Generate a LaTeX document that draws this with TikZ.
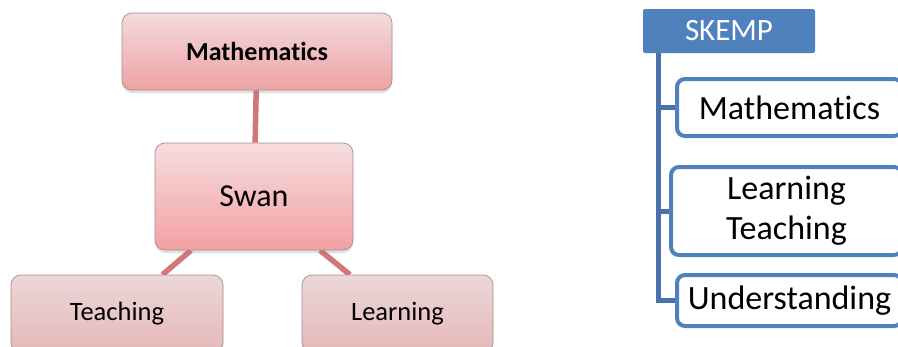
\documentclass[tikz,border=0pt]{standalone}
\usepackage{fontspec}
\setmainfont{Carlito}[Ligatures={NoCommon,NoContextual}]
\usetikzlibrary{shadows,backgrounds}

\definecolor{mathtop}{HTML}{F3DBDD}
\definecolor{mathbot}{HTML}{EEA2A5}
\definecolor{swantop}{HTML}{F6DDDF}
\definecolor{swanbot}{HTML}{F2A1A4}
\definecolor{leaftop}{HTML}{ECD7D8}
\definecolor{leafbot}{HTML}{E6B8B9}
\definecolor{pinkedge}{HTML}{A88A8B}
\definecolor{linkred}{HTML}{D0777A}
\definecolor{skblue}{HTML}{4F81BD}
\definecolor{trunkblue}{HTML}{4A72A8}

\tikzset{
  pinkbox/.style={rectangle, rounded corners=10pt, draw=pinkedge, line width=0.7pt,
    drop shadow={shadow xshift=0pt, shadow yshift=-3pt, opacity=0.25},
    inner sep=0pt, text=black},
  link/.style={draw=linkred, line width=5.5pt},
  linkfade/.style={draw=linkred, line width=5.5pt, opacity=0.45},
  headbox/.style={rectangle, rounded corners=2pt, fill=skblue, text=white,
    inner sep=0pt, font=\fontsize{31}{36}\selectfont},
  leafbox/.style={rectangle, rounded corners=8pt, draw=skblue, line width=4pt,
    fill=white, inner sep=0pt, text=black, align=center,
    font=\fontsize{34}{40}\selectfont},
  tree/.style={draw=trunkblue, line width=5pt}
}

\begin{document}
\begin{tikzpicture}[x=1pt, y=-1pt]
  \useasboundingbox (0,0) rectangle (898,346);
  \clip (0,0) rectangle (898,346);

  % left hierarchy
  \node[pinkbox, top color=mathtop, bottom color=mathbot,
        minimum width=270pt, minimum height=77pt,
        font=\fontsize{26}{30}\selectfont\bfseries] (lmath) at (257,51.5) {Mathematics};
  \node[pinkbox, top color=swantop, bottom color=swanbot,
        minimum width=198pt, minimum height=107pt,
        font=\fontsize{32}{36}\selectfont] (swan) at (254,196.5) {Swan};
  \node[pinkbox, top color=leaftop, bottom color=leafbot,
        minimum width=212pt, minimum height=77pt,
        font=\fontsize{26.5}{30}\selectfont] (teach) at (117,313.5) {Teaching};
  \node[pinkbox, top color=leaftop, bottom color=leafbot,
        minimum width=191pt, minimum height=77pt,
        font=\fontsize{26.5}{30}\selectfont] (learn) at (397.5,313.5) {Learning};

  \begin{scope}[on background layer]
    \draw[link] (lmath) -- (swan);
    \draw[link] (swan) -- (teach);
    \draw[link] (swan) -- (learn);
  \end{scope}
  % connector ends showing faintly over the boxes
  \path (lmath) -- (swan) coordinate[pos=0.17] (ma) coordinate[pos=0.266] (mb);
  \draw[linkfade] (ma) -- (mb);
  \path (swan) -- (teach) coordinate[pos=0.675] (ta) coordinate[pos=0.744] (tb);
  \draw[linkfade] (ta) -- (tb);
  \path (swan) -- (learn) coordinate[pos=0.675] (la) coordinate[pos=0.744] (lb);
  \draw[linkfade] (la) -- (lb);

  % right hierarchy
  \node[headbox, minimum width=172pt, minimum height=44pt] (skemp) at (729,31) {SKEMP};
  \node[leafbox, minimum width=225pt, minimum height=57pt] (rmath) at (789.5,107.5) {Mathematics};
  \node[leafbox, minimum width=231pt, minimum height=88pt] (rlt) at (786.5,211) {Learning\\Teaching};
  \node[leafbox, minimum width=225pt, minimum height=51pt] (rund) at (789.5,300.5) {Understanding};

  \coordinate (trunk) at (658,0);
  \begin{scope}[on background layer]
    \draw[tree] (skemp.south -| trunk) |- (rmath.west);
    \draw[tree] (skemp.south -| trunk) |- (rlt.west);
    \draw[tree] (skemp.south -| trunk) |- (rund.west);
  \end{scope}
\end{tikzpicture}
\end{document}
